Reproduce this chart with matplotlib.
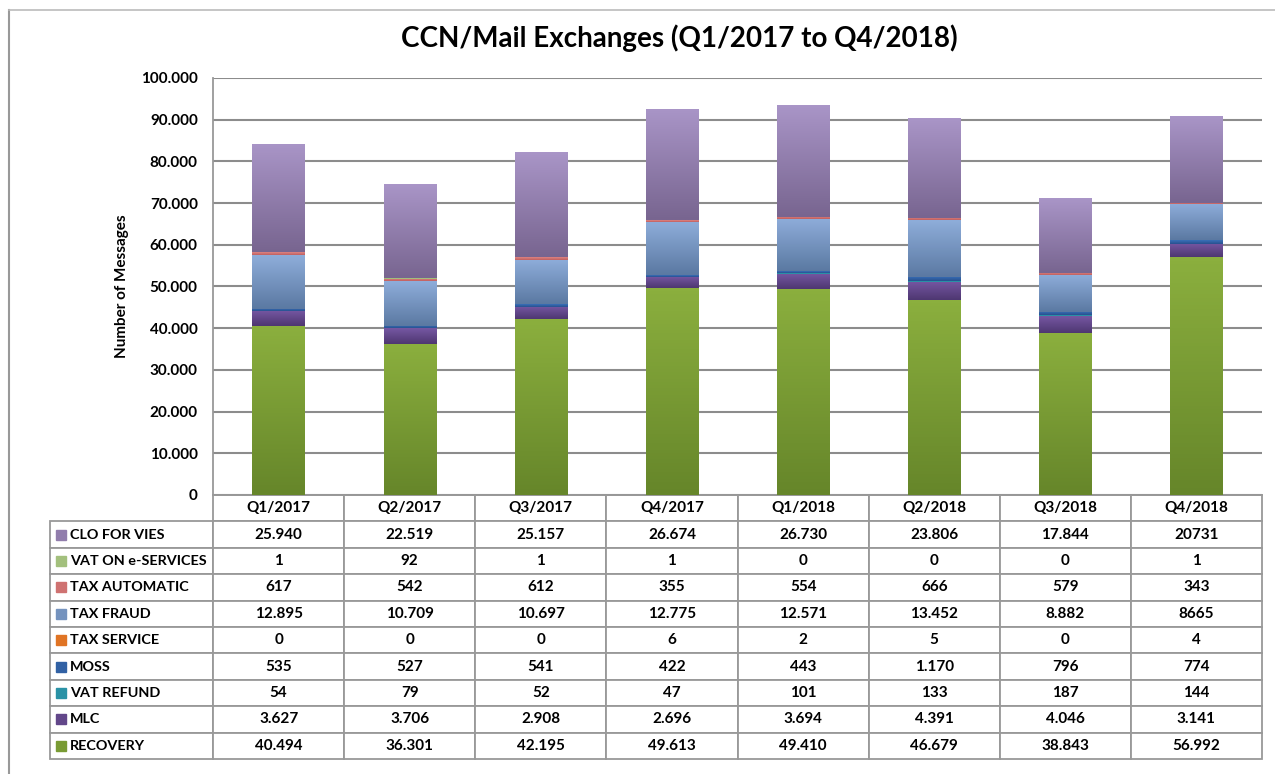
import numpy as np
import matplotlib.pyplot as plt
from matplotlib.colors import to_rgb
from matplotlib.lines import Line2D

plt.rcParams['font.family'] = ['Lato', 'DejaVu Sans']
plt.rcParams['font.weight'] = 'bold'

quarters = ['Q1/2017', 'Q2/2017', 'Q3/2017', 'Q4/2017',
            'Q1/2018', 'Q2/2018', 'Q3/2018', 'Q4/2018']

# stacking order, bottom to top
series_names = ['RECOVERY', 'MLC', 'VAT REFUND', 'MOSS', 'TAX SERVICE',
                'TAX FRAUD', 'TAX AUTOMATIC', 'VAT ON e-SERVICES', 'CLO FOR VIES']
recovery = [40494, 36301, 42195, 49613, 49410, 46679, 38843, 56992]
mlc = [3627, 3706, 2908, 2696, 3694, 4391, 4046, 3141]
vat_refund = [54, 79, 52, 47, 101, 133, 187, 144]
moss = [535, 527, 541, 422, 443, 1170, 796, 774]
tax_service = [0, 0, 0, 6, 2, 5, 0, 4]
tax_fraud = [12895, 10709, 10697, 12775, 12571, 13452, 8882, 8665]
tax_automatic = [617, 542, 612, 355, 554, 666, 579, 343]
vat_eservices = [1, 92, 1, 1, 0, 0, 0, 1]
clo_vies = [25940, 22519, 25157, 26674, 26730, 23806, 17844, 20731]

series = [recovery, mlc, vat_refund, moss, tax_service,
          tax_fraud, tax_automatic, vat_eservices, clo_vies]

# (top, bottom) gradient colours
colors = [('#8BAF3E', '#66862A'), ('#7657A3', '#4E3771'), ('#33A7BE', '#217C8E'),
          ('#3A70B8', '#285190'), ('#F08030', '#D06818'), ('#8EADDA', '#5B79A2'),
          ('#DE8483', '#C05F5F'), ('#B4D08F', '#92B06A'), ('#A995C7', '#786590')]

# cells shown without thousands separator in the source table
raw_cells = {('CLO FOR VIES', 7), ('TAX FRAUD', 7)}


def fmt(v, raw=False):
    if raw:
        return str(v)
    return f'{v:,}'.replace(',', '.')


def gradient(top, bottom, n=64):
    t = np.linspace(0, 1, n)[:, None, None]
    a = np.array(to_rgb(top))[None, None, :]
    b = np.array(to_rgb(bottom))[None, None, :]
    return a * (1 - t) + b * t


fig = plt.figure(figsize=(12.75, 7.74), dpi=100)
ax = fig.add_axes([0.1671, 0.3605, 0.8227, 0.5388])

x = np.arange(len(quarters))
bottom = np.zeros(len(quarters))
for name, vals, (ctop, cbot) in zip(series_names, series, colors):
    bars = ax.bar(x, vals, 0.4, bottom=bottom, color=cbot, zorder=2, linewidth=0)
    for rect in bars:
        if rect.get_height() <= 0:
            continue
        x0, y0 = rect.get_x(), rect.get_y()
        im = ax.imshow(gradient(ctop, cbot), extent=[x0, x0 + rect.get_width(), y0, y0 + rect.get_height()],
                       aspect='auto', origin='upper', zorder=3)
        im.set_clip_path(rect)
    bottom += np.array(vals)

ax.set_xlim(-0.5, len(quarters) - 0.5)
ax.set_ylim(0, 100000)
ax.set_yticks(np.arange(0, 100001, 10000))
ax.set_yticklabels([fmt(v) for v in range(0, 100001, 10000)], fontsize=11)
ax.set_xticks([])
ax.tick_params(axis='y', length=0, pad=11)
ax.yaxis.grid(True, color='#8c8c8c', linewidth=1.5, zorder=0)
ax.set_axisbelow(True)
for s in ['top', 'right']:
    ax.spines[s].set_visible(False)
for s in ['left', 'bottom']:
    ax.spines[s].set_color('#999999')
    ax.spines[s].set_linewidth(1.3)

ax.set_ylabel('Number of Messages', fontsize=11, fontweight='bold')
ax.yaxis.set_label_coords(-0.08, 0.5)

# data table below the chart
cell_text = [[''] + quarters]
for name, vals in zip(series_names[::-1], series[::-1]):
    cell_text.append([name] + [fmt(v, (name, i) in raw_cells) for i, v in enumerate(vals)])

tx0, ty0, tw, th = -0.1554, -0.6331, 1.1554, 0.6331
tab = ax.table(cellText=cell_text, cellLoc='center', colWidths=[163] + [131.1] * 8,
               bbox=[tx0, ty0, tw, th])
tab.auto_set_font_size(False)
tab.set_fontsize(11)
for (r, c), cell in tab.get_celld().items():
    cell.set_edgecolor('#999999')
    cell.set_linewidth(1.3)
    cell.get_text().set_fontweight('bold')
    if c == 0:
        cell._loc = 'left'
        cell.PAD = 0.12
        cell.get_text().set_ha('left')
        cell.get_text().set_fontsize(10.4)
    if r == 0 and c == 0:
        cell.visible_edges = ''

nrows = len(cell_text)
for i, (ctop, cbot) in enumerate(colors[::-1]):
    yc = ty0 + th * (1 - (i + 1.5) / nrows)
    mid = tuple((np.array(to_rgb(ctop)) + np.array(to_rgb(cbot))) / 2)
    ax.plot([-0.145], [yc], marker='s', markersize=6.5, color=mid,
            transform=ax.transAxes, clip_on=False, zorder=5)

fig.text(0.533, 0.951, 'CCN/Mail Exchanges (Q1/2017 to Q4/2018)',
         ha='center', va='center', fontsize=20, fontweight='bold')

# chart frame
fig.add_artist(Line2D([9 / 1275, 9 / 1275], [1 - 10 / 774, 0.0], color='#999999', linewidth=1.5))
fig.add_artist(Line2D([9 / 1275, 1.0], [1 - 10 / 774, 1 - 10 / 774], color='#bbbbbb', linewidth=1.2))

fig.savefig('out.png', dpi=100)
